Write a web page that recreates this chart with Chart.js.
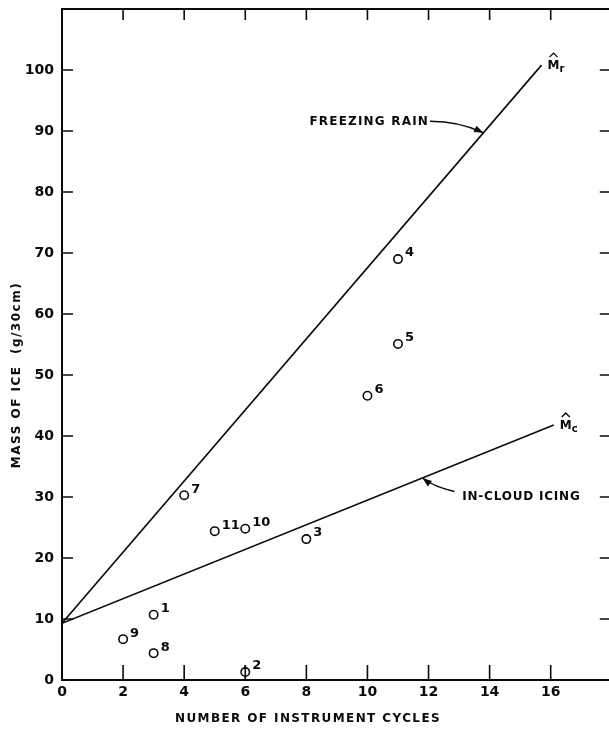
<!DOCTYPE html>
<html>
<head>
<meta charset="utf-8">
<script src="https://cdn.jsdelivr.net/npm/chart.js@4.4.1/dist/chart.umd.min.js"></script>
<style>
  html, body { margin: 0; padding: 0; background: #fff; overflow: hidden; }
  #wrap { width: 620px; height: 730px; }
</style>
</head>
<body>
<div id="wrap"><canvas id="chart" width="620" height="730"></canvas></div>
<script>
// Observed icing events (number of instrument cycles vs. mass of ice)
const obsIds = ['1', '2', '3', '4', '5', '6', '7', '8', '9', '10', '11'];
const obsCycles = [3, 6, 8, 11, 11, 10, 4, 3, 2, 6, 5];
const obsMass = [10.7, 1.3, 23.1, 69.0, 55.1, 46.6, 30.3, 4.4, 6.7, 24.8, 24.4];

// Fitted lines, end points
const rainX = [0, 15.7];
const rainY = [9.3, 100.8];
const cloudX = [0, 16.1];
const cloudY = [9.3, 41.8];

const xTicks = [0, 2, 4, 6, 8, 10, 12, 14, 16];
const yTicks = [0, 10, 20, 30, 40, 50, 60, 70, 80, 90, 100];

const INK = '#0a0a0a';
const FONT = 'DejaVu Sans';

const toPts = (xs, ys) => xs.map((x, i) => ({ x, y: ys[i] }));

// --- Frame, inward ticks, labels and arrows ---
const decorPlugin = {
  id: 'decor',
  afterDraw(chart) {
    const { ctx, chartArea: a, scales: { x, y } } = chart;
    ctx.save();
    ctx.strokeStyle = INK;
    ctx.fillStyle = INK;

    // top and right frame
    ctx.lineWidth = 2;
    ctx.beginPath();
    ctx.moveTo(a.left, a.top); ctx.lineTo(a.right, a.top);
    ctx.moveTo(a.right, a.top); ctx.lineTo(a.right, a.bottom);
    ctx.stroke();

    // inward ticks
    ctx.lineWidth = 1.6;
    ctx.beginPath();
    for (let v = 2; v <= 16; v += 2) {
      const px = x.getPixelForValue(v);
      ctx.moveTo(px, a.bottom); ctx.lineTo(px, a.bottom - 15);
      ctx.moveTo(px, a.top); ctx.lineTo(px, a.top + 11);
    }
    for (let v = 10; v <= 100; v += 10) {
      const py = y.getPixelForValue(v);
      ctx.moveTo(a.left, py); ctx.lineTo(a.left + 11, py);
      ctx.moveTo(a.right, py); ctx.lineTo(a.right - 12, py);
    }
    ctx.stroke();

    // point numbers
    ctx.font = 'bold 13px ' + FONT;
    ctx.textAlign = 'left';
    ctx.textBaseline = 'middle';
    obsIds.forEach((id, i) => {
      const px = x.getPixelForValue(obsCycles[i]);
      const py = y.getPixelForValue(obsMass[i]);
      ctx.fillText(id, px + 7, py - 6);
    });

    // M-hat labels at line ends
    const hatLabel = (lx, ly, sub) => {
      const px = x.getPixelForValue(lx);
      const py = y.getPixelForValue(ly);
      const mx = px + 6, base = py + 4;
      ctx.font = 'bold 12px ' + FONT;
      ctx.textBaseline = 'alphabetic';
      ctx.fillText('M', mx, base);
      const w = ctx.measureText('M').width;
      ctx.font = 'bold 10px ' + FONT;
      ctx.fillText(sub, mx + w, base + 3);
      ctx.lineWidth = 1.4;
      ctx.beginPath();
      ctx.moveTo(mx + 2, base - 12);
      ctx.lineTo(mx + w / 2, base - 16);
      ctx.lineTo(mx + w - 2, base - 12);
      ctx.stroke();
    };
    hatLabel(rainX[1], rainY[1], 'r');
    hatLabel(cloudX[1], cloudY[1], 'c');

    // curved arrows pointing at the lines
    const arrow = (x0, y0, cx, cy, x1, y1) => {
      const p0 = [x.getPixelForValue(x0), y.getPixelForValue(y0)];
      const pc = [x.getPixelForValue(cx), y.getPixelForValue(cy)];
      const p1 = [x.getPixelForValue(x1), y.getPixelForValue(y1)];
      ctx.lineWidth = 1.3;
      ctx.beginPath();
      ctx.moveTo(p0[0], p0[1]);
      ctx.quadraticCurveTo(pc[0], pc[1], p1[0], p1[1]);
      ctx.stroke();
      const ang = Math.atan2(p1[1] - pc[1], p1[0] - pc[0]);
      const len = 10, spread = 0.35;
      ctx.beginPath();
      ctx.moveTo(p1[0], p1[1]);
      ctx.lineTo(p1[0] - len * Math.cos(ang - spread), p1[1] - len * Math.sin(ang - spread));
      ctx.lineTo(p1[0] - len * Math.cos(ang + spread), p1[1] - len * Math.sin(ang + spread));
      ctx.closePath();
      ctx.fill();
    };

    ctx.font = 'bold 12px ' + FONT;
    ctx.letterSpacing = '1.2px';
    ctx.textBaseline = 'middle';
    ctx.textAlign = 'left';
    ctx.fillText('FREEZING RAIN', x.getPixelForValue(8.1), y.getPixelForValue(91.5));
    arrow(12.05, 91.6, 13.0, 91.6, 13.8, 89.7);

    ctx.letterSpacing = '0.8px';
    ctx.fillText('IN-CLOUD ICING', x.getPixelForValue(13.1), y.getPixelForValue(30.1));
    arrow(12.85, 30.9, 12.2, 31.6, 11.8, 33.1);

    // axis titles
    ctx.font = 'bold 12px ' + FONT;
    ctx.letterSpacing = '1.4px';
    ctx.textAlign = 'center';
    ctx.fillText('NUMBER OF INSTRUMENT CYCLES', 308, 719);
    ctx.save();
    ctx.translate(17, 375);
    ctx.rotate(-Math.PI / 2);
    ctx.letterSpacing = '1.5px';
    ctx.fillText('MASS OF ICE  (g/30cm)', 0, 0);
    ctx.restore();

    ctx.restore();
  }
};

const tickFont = { family: FONT, size: 14, weight: 'bold' };

new Chart(document.getElementById('chart'), {
  type: 'scatter',
  data: {
    datasets: [
      {
        label: 'Freezing rain',
        data: toPts(rainX, rainY),
        showLine: true,
        borderColor: INK,
        borderWidth: 1.6,
        pointRadius: 0,
      },
      {
        label: 'In-cloud icing',
        data: toPts(cloudX, cloudY),
        showLine: true,
        borderColor: INK,
        borderWidth: 1.6,
        pointRadius: 0,
      },
      {
        label: 'Observed',
        data: toPts(obsCycles, obsMass),
        pointStyle: 'circle',
        pointRadius: 4.2,
        borderColor: INK,
        borderWidth: 1.6,
        backgroundColor: '#fff',
      },
      {
        label: 'Observed centre',
        data: toPts(obsCycles, obsMass),
        pointStyle: obsIds.map(id => id === '2' ? 'line' : 'circle'),
        rotation: obsIds.map(id => id === '2' ? 90 : 0),
        pointRadius: obsIds.map(id => id === '2' ? 6.5 : 1.2),
        borderColor: INK,
        borderWidth: obsIds.map(id => id === '2' ? 1.7 : 0.5),
        backgroundColor: INK,
      },
    ],
  },
  options: {
    responsive: false,
    animation: false,
    layout: { padding: { top: 9, right: 8, bottom: 0, left: 0 } },
    plugins: {
      legend: { display: false },
      tooltip: { enabled: false },
    },
    scales: {
      x: {
        type: 'linear',
        min: 0,
        max: 18,
        afterFit: s => { s.height = 50; s.paddingLeft = 0; s.paddingRight = 0; },
        afterBuildTicks: s => { s.ticks = xTicks.map(v => ({ value: v })); },
        grid: { display: false, drawTicks: false },
        border: { display: true, color: INK, width: 2 },
        ticks: { color: INK, font: tickFont, padding: 4, maxRotation: 0 },
      },
      y: {
        type: 'linear',
        min: 0,
        max: 110,
        afterFit: s => { s.width = 62; s.paddingTop = 0; s.paddingBottom = 0; },
        afterBuildTicks: s => { s.ticks = yTicks.map(v => ({ value: v })); },
        grid: { display: false, drawTicks: false },
        border: { display: true, color: INK, width: 2 },
        ticks: { color: INK, font: tickFont, padding: 8 },
      },
    },
  },
  plugins: [decorPlugin],
});
</script>
</body>
</html>
